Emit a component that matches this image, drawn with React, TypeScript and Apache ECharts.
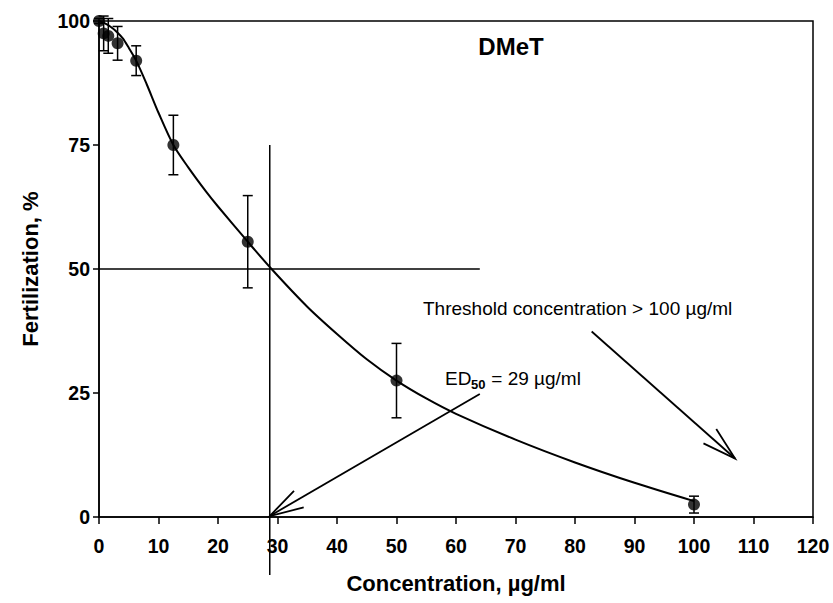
import React, { useEffect, useRef } from "react";
import * as echarts from "echarts";

// Measured points (concentration µg/ml, fertilization %, error bar half-length)
const concentration = [0, 0.78, 1.56, 3.125, 6.25, 12.5, 25, 50, 100];
const fertilization = [100, 97.5, 97, 95.5, 92, 75, 55.5, 27.5, 2.5];
const errorHalf = [0.5, 3.5, 3.5, 3.4, 3, 6, 9.3, 7.5, 1.7];

// Fitted curve
const curveX = [0, 1, 2, 3, 4, 5, 6.25, 8, 10, 12.5, 15, 18, 20, 25, 29, 35, 40, 45, 50, 55, 60, 70, 80, 90, 100];
const curveY = [100, 99.5, 98.8, 97.8, 96.5, 94.6, 92, 87.3, 81.5, 75, 70.5, 65.6, 62.6, 55.5, 50, 42.4, 36.9, 31.8, 27.5, 23.9, 20.8, 15.6, 11.0, 6.9, 3.2];

// ED50 guide lines
const ed50 = 28.7;
const ed50Horizontal = [[0, 50], [64, 50]];
const ed50Vertical = [[ed50, 75], [ed50, -11.7]];

// Arrows: [fromX, fromY, toX, toY]
const arrows = [
  [64, 24.8, ed50, 0.2],
  [82.8, 37.4, 106.9, 11.8],
];

const xTicks = { min: 0, max: 120, interval: 10 };
const yTicks = { min: 0, max: 100, interval: 25 };

const FONT = '"Liberation Sans", Arial, sans-serif';

export default function App() {
  const ref = useRef<HTMLDivElement>(null);

  useEffect(() => {
    if (!ref.current) return;
    const chart = echarts.init(ref.current, null, { renderer: "svg" });

    const points = concentration.map((c, i) => [c, fertilization[i]]);
    const errData = concentration.map((c, i) => [c, fertilization[i] - errorHalf[i], fertilization[i] + errorHalf[i]]);
    const curve = curveX.map((x, i) => [x, curveY[i]]);

    const option: any = {
      animation: false,
      backgroundColor: "#fff",
      grid: {
        left: 99,
        right: 20,
        top: 21,
        bottom: 86,
        show: true,
        borderColor: "#000",
        borderWidth: 1.5,
        containLabel: false,
      },
      xAxis: {
        type: "value",
        min: xTicks.min,
        max: xTicks.max,
        interval: xTicks.interval,
        name: "Concentration, µg/ml",
        nameLocation: "middle",
        nameGap: 55,
        nameTextStyle: { fontFamily: FONT, fontSize: 22, fontWeight: "bold", color: "#000" },
        axisLine: { show: true, lineStyle: { color: "#000", width: 1.5 } },
        axisTick: { show: true, inside: false, length: 7, lineStyle: { color: "#000", width: 1.5 } },
        axisLabel: { fontFamily: FONT, fontSize: 19.5, fontWeight: "bold", color: "#000", margin: 19 },
        splitLine: { show: false },
      },
      yAxis: {
        type: "value",
        min: yTicks.min,
        max: yTicks.max,
        interval: yTicks.interval,
        name: "Fertilization, %",
        nameLocation: "middle",
        nameGap: 58,
        nameTextStyle: { fontFamily: FONT, fontSize: 22, fontWeight: "bold", color: "#000" },
        axisLine: { show: true, lineStyle: { color: "#000", width: 1.5 } },
        axisTick: { show: true, inside: false, length: 6, lineStyle: { color: "#000", width: 1.5 } },
        axisLabel: { fontFamily: FONT, fontSize: 19.5, fontWeight: "bold", color: "#000", margin: 9 },
        splitLine: { show: false },
      },
      series: [
        {
          type: "line",
          data: curve,
          smooth: 0.3,
          showSymbol: false,
          symbol: "none",
          lineStyle: { color: "#000", width: 2 },
          z: 3,
        },
        {
          type: "line",
          data: ed50Horizontal,
          showSymbol: false,
          symbol: "none",
          clip: false,
          lineStyle: { color: "#000", width: 1.5 },
          z: 2,
        },
        {
          type: "line",
          data: ed50Vertical,
          showSymbol: false,
          symbol: "none",
          clip: false,
          lineStyle: { color: "#000", width: 1.5 },
          z: 2,
        },
        {
          type: "custom",
          data: errData,
          clip: false,
          z: 4,
          renderItem: (params: any, api: any) => {
            const x = api.value(0);
            const lo = api.coord([x, api.value(1)]);
            const hi = api.coord([x, api.value(2)]);
            const cap = 5;
            const style = { stroke: "#000", lineWidth: 1.5 };
            return {
              type: "group",
              children: [
                { type: "line", shape: { x1: lo[0], y1: lo[1], x2: hi[0], y2: hi[1] }, style },
                { type: "line", shape: { x1: lo[0] - cap, y1: lo[1], x2: lo[0] + cap, y2: lo[1] }, style },
                { type: "line", shape: { x1: hi[0] - cap, y1: hi[1], x2: hi[0] + cap, y2: hi[1] }, style },
              ],
            };
          },
        },
        {
          type: "custom",
          data: arrows,
          clip: false,
          z: 4,
          renderItem: (params: any, api: any) => {
            const p1 = api.coord([api.value(0), api.value(1)]);
            const p2 = api.coord([api.value(2), api.value(3)]);
            const ang = Math.atan2(p1[1] - p2[1], p1[0] - p2[0]);
            const len = 35;
            const half = (16 * Math.PI) / 180;
            const w1 = [p2[0] + len * Math.cos(ang + half), p2[1] + len * Math.sin(ang + half)];
            const w2 = [p2[0] + len * Math.cos(ang - half), p2[1] + len * Math.sin(ang - half)];
            const style = { stroke: "#000", lineWidth: 1.8, fill: null };
            return {
              type: "group",
              children: [
                { type: "line", shape: { x1: p1[0], y1: p1[1], x2: p2[0], y2: p2[1] }, style },
                { type: "polyline", shape: { points: [w1, p2, w2] }, style },
              ],
            };
          },
        },
        {
          type: "scatter",
          data: points,
          symbol: "circle",
          symbolSize: 12,
          itemStyle: { color: "#000" },
          clip: false,
          z: 5,
        },
      ],
      graphic: [
        {
          type: "text",
          x: 511,
          y: 46,
          style: {
            text: "DMeT",
            font: `bold 24px ${FONT}`,
            fill: "#000",
            align: "center",
            verticalAlign: "middle",
            textAlign: "center",
            textVerticalAlign: "middle",
          },
        },
        {
          type: "text",
          x: 423,
          y: 308,
          style: {
            text: "Threshold concentration > 100 µg/ml",
            font: `19px ${FONT}`,
            fill: "#000",
            align: "left",
            verticalAlign: "middle",
            textAlign: "left",
            textVerticalAlign: "middle",
          },
        },
        {
          type: "text",
          x: 445,
          y: 378,
          style: {
            text: "ED",
            font: `19px ${FONT}`,
            fill: "#000",
            align: "left",
            verticalAlign: "middle",
            textAlign: "left",
            textVerticalAlign: "middle",
          },
        },
        {
          type: "text",
          x: 471,
          y: 384,
          style: {
            text: "50",
            font: `bold 13px ${FONT}`,
            fill: "#000",
            align: "left",
            verticalAlign: "middle",
            textAlign: "left",
            textVerticalAlign: "middle",
          },
        },
        {
          type: "text",
          x: 486,
          y: 378,
          style: {
            text: " = 29 µg/ml",
            font: `19px ${FONT}`,
            fill: "#000",
            align: "left",
            verticalAlign: "middle",
            textAlign: "left",
            textVerticalAlign: "middle",
          },
        },
      ],
    };

    chart.setOption(option);
    return () => chart.dispose();
  }, []);

  return (
    <div
      ref={ref}
      style={{ position: "fixed", left: 0, top: 0, width: 833, height: 603, background: "#fff" }}
    />
  );
}
